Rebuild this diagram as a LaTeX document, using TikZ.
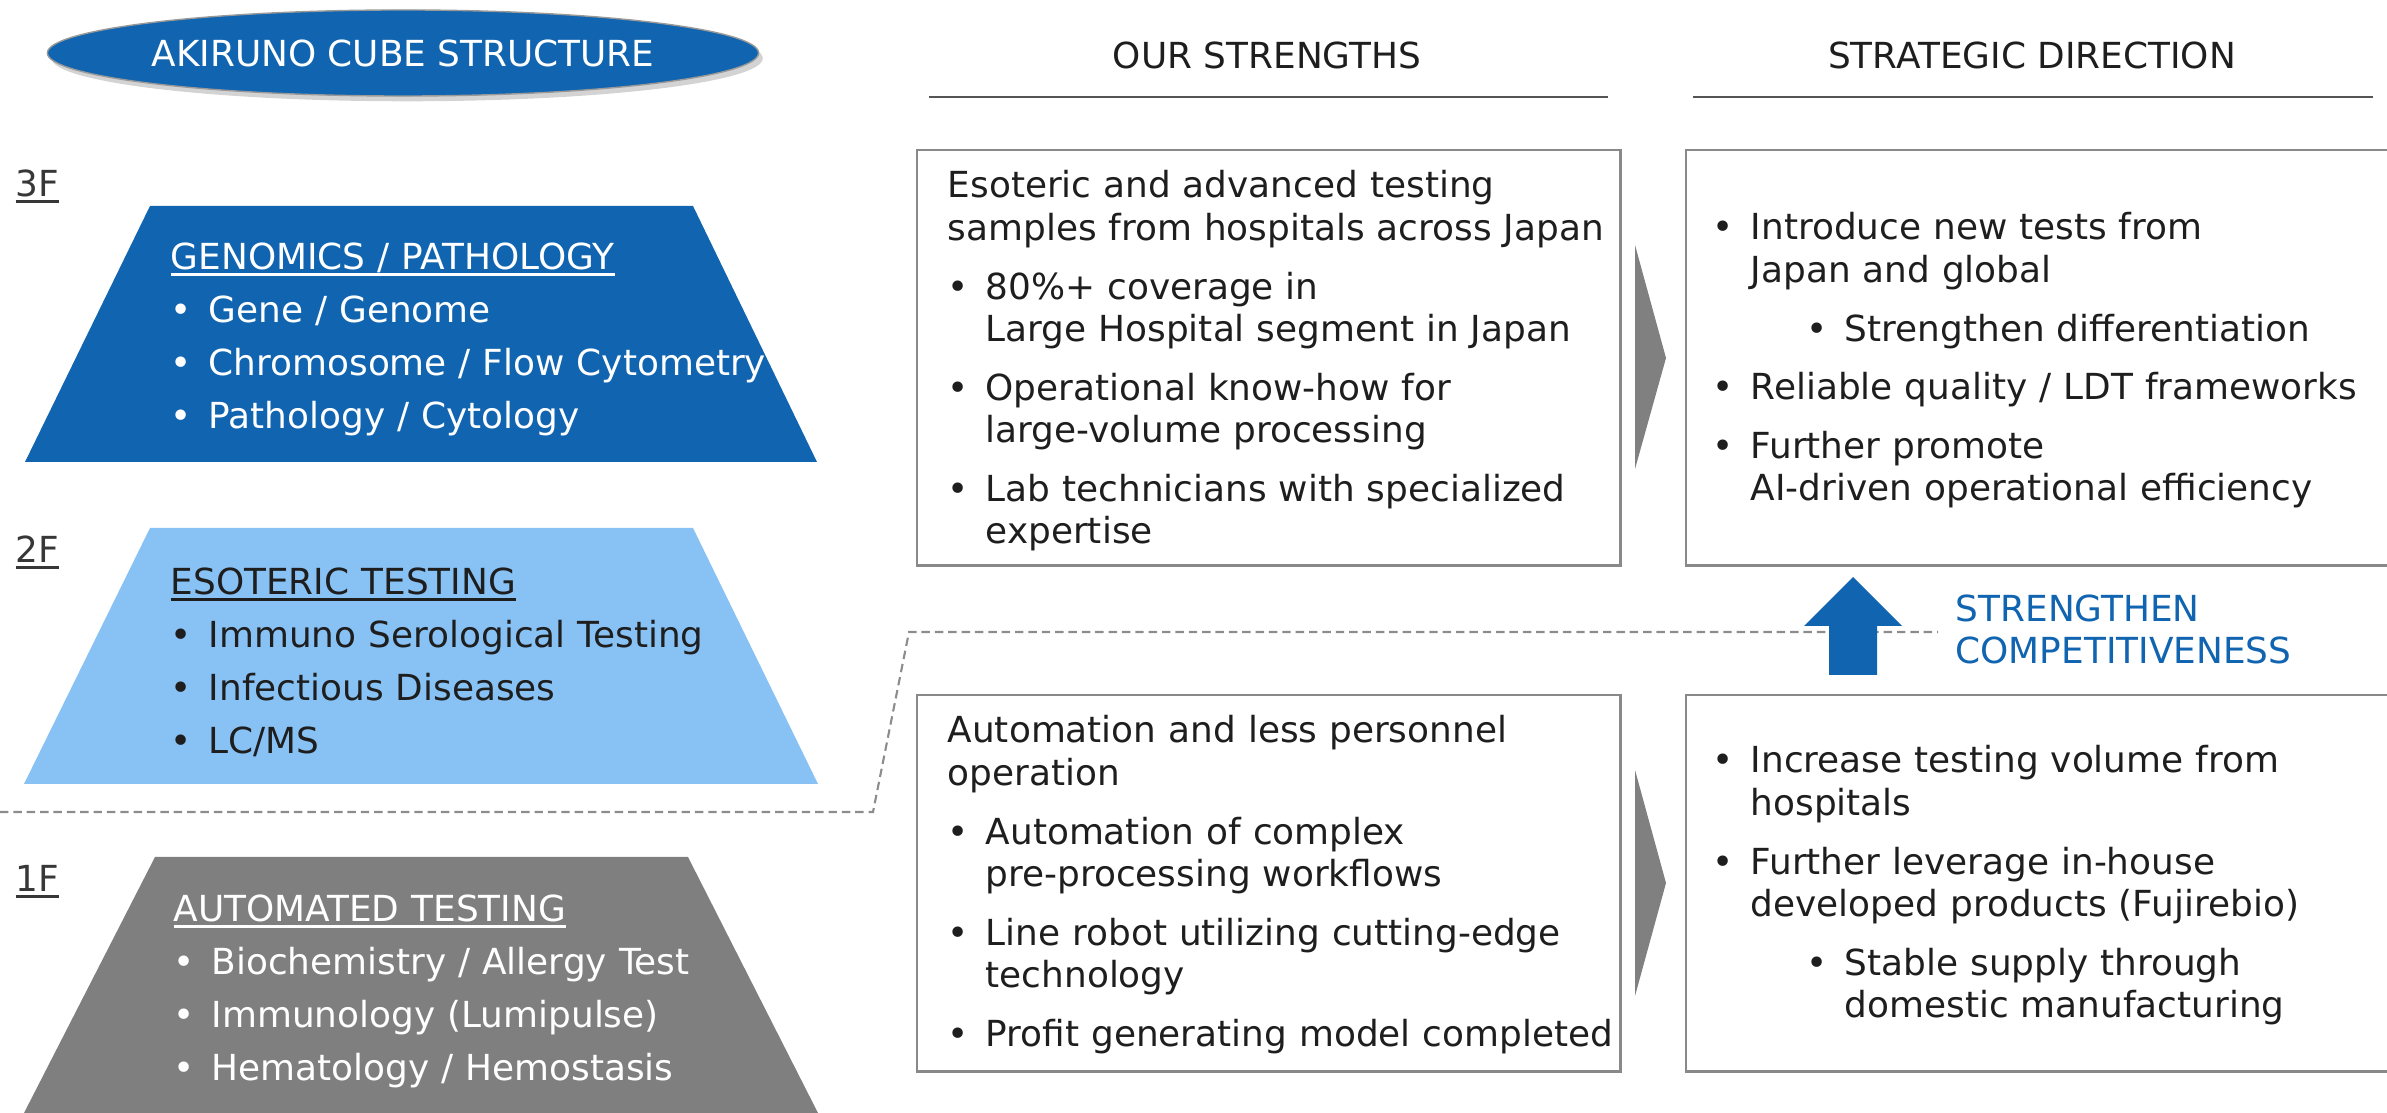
\documentclass[tikz,border=0pt]{standalone}
\usepackage{fontspec}
\setmainfont{DejaVu Sans}
\usepackage{tikz}
\usetikzlibrary{positioning,shapes.geometric,shadows}

\definecolor{cubeblue}{RGB}{16,100,176}
\definecolor{skyfloor}{RGB}{136,194,245}
\definecolor{greyfloor}{RGB}{127,127,127}
\definecolor{textdark}{RGB}{30,30,30}
\definecolor{labelgrey}{RGB}{55,55,55}
\definecolor{framegrey}{RGB}{137,137,137}
\definecolor{rulegrey}{RGB}{85,85,85}
\definecolor{dashgrey}{RGB}{140,140,140}
\definecolor{chevgrey}{RGB}{128,128,128}

\newcommand{\boxfont}{\fontsize{10.2pt}{12.1pt}\selectfont}
\newcommand{\floorfont}{\fontsize{10.2pt}{15pt}\selectfont}
\newcommand{\tagfont}{\fontsize{10.2pt}{11.7pt}\selectfont}

\newlength{\bulletw}\setlength{\bulletw}{0.38cm}
\newlength{\subindent}\setlength{\subindent}{0.94cm}
\newlength{\itemgap}\setlength{\itemgap}{0.16cm}

% paragraphs and bullet lines with hanging indent
\newcommand{\leadpar}[1]{\noindent#1\par\vspace{\itemgap}}
\newcommand{\bitem}[1]{\hangindent=\bulletw\hangafter=1\noindent\makebox[\bulletw][l]{\textbullet}#1\par\vspace{\itemgap}}
\newcommand{\subbitem}[1]{\hangindent=\dimexpr\subindent+\bulletw\relax\hangafter=1\noindent\hspace*{\subindent}\makebox[\bulletw][l]{\textbullet}#1\par\vspace{\itemgap}}
% underlined heading
\newcommand{\floorul}[1]{\setbox0=\hbox{#1}\rlap{\rule[-0.06cm]{\wd0}{0.025cm}}\box0}

\tikzset{
	floorlabel/.style = {anchor=base west, inner sep=0, font=\boxfont, text=labelgrey},
	floortext/.style = {anchor=base west, inner sep=0, text width=8cm, align=left, font=\floorfont, execute at begin node={\setlength{\itemgap}{0pt}}},
	infobox/.style = {draw=framegrey, line width=0.7pt, fill=white, minimum width=7.03cm},
	boxtext/.style = {anchor=base west, inner sep=0, text width=8cm, align=left, font=\boxfont, text=textdark},
	colhead/.style = {anchor=base, inner sep=0, font=\boxfont, text=textdark},
	headrule/.style = {draw=rulegrey, line width=0.8pt},
	chevron/.style = {fill=chevgrey}
}

\begin{document}
\begin{tikzpicture}[x=0.01cm, y=-0.01cm]
	\useasboundingbox (0,0) rectangle (2387,1113);
	
	% title ellipse
	\node [ellipse, fill=cubeblue, draw=gray!80, line width=0.4pt, minimum width=7.06cm, minimum height=0.86cm, inner sep=0,
		drop shadow={shadow xshift=1.2pt, shadow yshift=-1.5pt, opacity=0.35}, font=\boxfont, text=white] (cube) at (403,53) {AKIRUNO CUBE STRUCTURE};
	
	% column headings
	\node [colhead] (hstr) at (1267,69) {OUR STRENGTHS};
	\node [colhead] (hdir) at (2032,69) {STRATEGIC DIRECTION};
	\draw [headrule] (929,97) -- (1608,97);
	\draw [headrule] (1693,97) -- (2373,97);
	
	% separator between floors
	\draw [dashgrey, line width=0.6pt, dash pattern=on 2.4pt off 1.4pt] (0,812) -- (873,812) -- (909,632) -- (1938,632);
	
	% floors
	\fill [cubeblue] (150,206) -- (693,206) -- (817,462) -- (25,462) -- cycle;
	\fill [skyfloor] (150,528) -- (693,528) -- (818,784) -- (24,784) -- cycle;
	\fill [greyfloor] (155,857) -- (688,857) -- (818,1113) -- (24,1113) -- cycle;
	
	\node [floorlabel] (f3) at (15,197) {\floorul{3F}};
	\node [floorlabel] (f2) at (15,563) {\floorul{2F}};
	\node [floorlabel] (f1) at (15,892) {\floorul{1F}};
	
	\node [floortext, text=white] (genomics) at (170,270) {\leadpar{\floorul{GENOMICS / PATHOLOGY}}
		\bitem{Gene / Genome}
		\bitem{Chromosome / Flow Cytometry}
		\bitem{Pathology / Cytology}};
	\node [floortext, text=textdark] (esoteric) at (170,595) {\leadpar{\floorul{ESOTERIC TESTING}}
		\bitem{Immuno Serological Testing}
		\bitem{Infectious Diseases}
		\bitem{LC/MS}};
	\node [floortext, text=white] (automated) at (173,922) {\leadpar{\floorul{AUTOMATED TESTING}}
		\bitem{Biochemistry / Allergy Test}
		\bitem{Immunology (Lumipulse)}
		\bitem{Hematology / Hemostasis}};
	
	% strength and direction boxes
	\node [infobox, anchor=north west, minimum height=4.15cm] (strtop) at (916,149) {};
	\node [infobox, right=0.63cm of strtop, minimum height=4.15cm] (dirtop) {};
	\node [infobox, anchor=north west, minimum height=3.76cm] (strlow) at (916,694) {};
	\node [infobox, right=0.63cm of strlow, minimum height=3.76cm] (dirlow) {};
	
	\fill [chevron] (1635,245) -- (1666,358) -- (1635,469) -- cycle;
	\fill [chevron] (1635,770) -- (1666,883) -- (1635,996) -- cycle;
	
	\node [boxtext] (strtoptxt) at (947,198) {\leadpar{Esoteric and advanced testing\newline samples from hospitals across Japan}
		\bitem{80\%+ coverage in\newline Large Hospital segment in Japan}
		\bitem{Operational know-how for\newline large-volume processing}
		\bitem{Lab technicians with specialized\newline expertise}};
	\node [boxtext] (dirtoptxt) at (1712,240) {\bitem{Introduce new tests from\newline Japan and global}
		\subbitem{Strengthen differentiation}
		\bitem{Reliable quality / LDT frameworks}
		\bitem{Further promote\newline AI-driven operational efficiency}};
	\node [boxtext] (strlowtxt) at (947,743) {\leadpar{Automation and less personnel\newline operation}
		\bitem{Automation of complex\newline pre-processing workflows}
		\bitem{Line robot utilizing cutting-edge\newline technology}
		\bitem{Profit generating model completed}};
	\node [boxtext] (dirlowtxt) at (1712,773) {\bitem{Increase testing volume from\newline hospitals}
		\bitem{Further leverage in-house\newline developed products (Fujirebio)}
		\subbitem{Stable supply through\newline domestic manufacturing}};
	
	% upward arrow
	\fill [cubeblue] (1829,675) -- (1829,626) -- (1804,626) -- (1853,577) -- (1902,626) -- (1877,626) -- (1877,675) -- cycle;
	\node [anchor=base west, inner sep=0, text width=5cm, align=left, font=\tagfont, text=cubeblue] (compete) at (1955,622) {STRENGTHEN\newline COMPETITIVENESS};
\end{tikzpicture}
\end{document}
